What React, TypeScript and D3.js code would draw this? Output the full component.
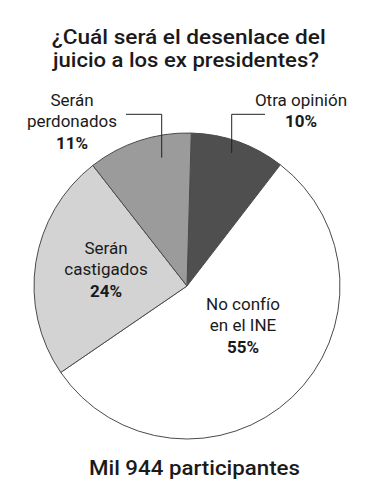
import React from "react";
import * as d3 from "d3";

const categories = ["Otra opinión", "No confío en el INE", "Serán castigados", "Serán perdonados"];
const values = [10, 55, 24, 11];
const labelLines = [["Otra opinión"], ["No confío", "en el INE"], ["Serán", "castigados"], ["Serán", "perdonados"]];
const percentLabels = ["10%", "55%", "24%", "11%"];
const colors = ["#4f4f4f", "#ffffff", "#d3d3d3", "#9b9b9b"];
const titleLines = ["¿Cuál será el desenlace del", "juicio a los ex presidentes?"];
const footer = "Mil 944 participantes";

const W = 379;
const H = 500;
const cx = 187;
const cy = 286;
const R = 153;
const FONT = "Roboto, 'Noto Sans', sans-serif";
const startOffset = (1.6 * Math.PI) / 180;

// label anchor points (text center x, first baseline y) and leader lines
const labelLayout = [
  { x: 301, y: 105.5, leader: [[265, 114.3], [231.7, 114.3], [231.7, 153]] },
  { x: 243, y: 309.5, leader: null },
  { x: 106, y: 253.5, leader: null },
  { x: 72, y: 105.5, leader: [[126, 114.3], [161.7, 114.3], [161.7, 157.7]] },
];

export default function App() {
  const pie = d3
    .pie<number>()
    .sort(null)
    .value((d) => d)
    .startAngle(startOffset)
    .endAngle(startOffset + 2 * Math.PI);
  const arcs = pie(values);
  const arc = d3.arc<d3.PieArcDatum<number>>().innerRadius(0).outerRadius(R);
  const line = d3.line();

  return (
    <svg width={W} height={H} style={{ position: "absolute", left: 0, top: 0, background: "#fff" }}>
      <rect width={W} height={H} fill="#fff" />
      {titleLines.map((t, i) => (
        <text
          key={i}
          x={i === 0 ? 188.7 : 186}
          y={44 + i * 22.5}
          textAnchor="middle"
          fontFamily={FONT}
          fontSize={19.5}
          fontWeight={500}
          fill="#1a1a1a"
          textLength={i === 0 ? 274 : 266}
          lengthAdjust="spacingAndGlyphs"
        >
          {t}
        </text>
      ))}
      <g transform={`translate(${cx},${cy})`}>
        {arcs.map((a, i) => (
          <path key={categories[i]} d={arc(a) || ""} fill={colors[i]} stroke="#4a4a4a" strokeWidth={1} />
        ))}
      </g>
      {labelLayout.map((l, i) =>
        l.leader ? (
          <path key={"ld" + i} d={line(l.leader as [number, number][]) || ""} fill="none" stroke="#222" strokeWidth={1} />
        ) : null
      )}
      {labelLayout.map((l, i) => (
        <text key={"lb" + i} textAnchor="middle" fontFamily={FONT} fontSize={17} fill="#1a1a1a">
          {labelLines[i].map((s, j) => (
            <tspan key={j} x={l.x} y={l.y + j * 21.5}>
              {s}
            </tspan>
          ))}
          <tspan x={l.x} y={l.y + labelLines[i].length * 21.5} fontWeight="bold">
            {percentLabels[i]}
          </tspan>
        </text>
      ))}
      <text
        x={194.5}
        y={475}
        textAnchor="middle"
        fontFamily={FONT}
        fontSize={21}
        fontWeight={500}
        fill="#1a1a1a"
        textLength={211}
        lengthAdjust="spacingAndGlyphs"
      >
        {footer}
      </text>
    </svg>
  );
}
